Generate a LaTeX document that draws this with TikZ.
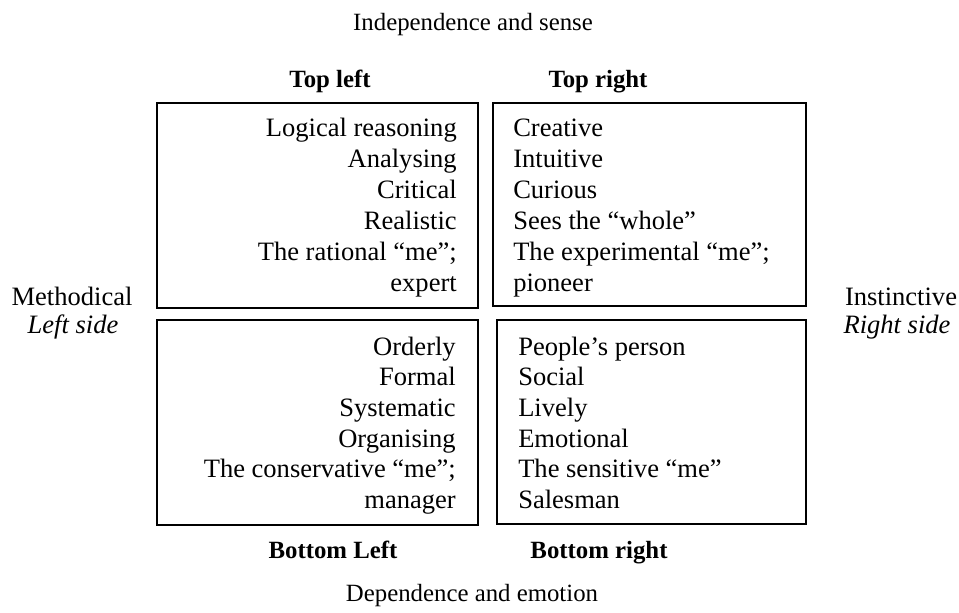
\documentclass[tikz,border=0pt]{standalone}
\usepackage{fontspec}
\setmainfont{Liberation Serif}
\begin{document}
\begin{tikzpicture}[x=0.75pt,y=0.75pt,yscale=-1,xscale=1,
  lbl/.style={inner sep=0pt,font=\fontsize{19.9}{24}\selectfont},
  axis/.style={inner sep=0pt,font=\fontsize{18.6}{23}\selectfont},
  head/.style={inner sep=0pt,font=\fontsize{18.6}{23}\selectfont\bfseries},
  side/.style={inner sep=0pt,font=\fontsize{19.9}{24}\selectfont\itshape},
  quad/.style={line width=1.2pt}]
\useasboundingbox (0,0) rectangle (959,613);

%Shape: Rectangle [top left]
\draw [quad] (157,103) rectangle (478,308);
%Shape: Rectangle [top right]
\draw [quad] (493,103) rectangle (806,306);
%Shape: Rectangle [bottom left]
\draw [quad] (157,320) rectangle (478,525);
%Shape: Rectangle [bottom right]
\draw [quad] (497,320) rectangle (806,524);

% Text Node
\node [axis,anchor=base] (indep) at (473,31) {Independence and sense};
% Text Node
\node [axis,anchor=base] (dep) at (472,601) {Dependence and emotion};
% Text Node
\node [head,anchor=base] (tlHead) at (330,88) {Top left};
% Text Node
\node [head,anchor=base] (trHead) at (598,88) {Top right};
% Text Node
\node [head,anchor=base] (blHead) at (333,558) {Bottom Left};
% Text Node
\node [head,anchor=base] (brHead) at (599,558) {Bottom right};
% Text Node
\node [lbl,anchor=base] (method) at (72,305) {Methodical};
% Text Node
\node [side,anchor=base] (leftSide) at (73,333) {Left side};
% Text Node
\node [lbl,anchor=base] (instinct) at (901,305) {Instinctive};
% Text Node
\node [side,anchor=base] (rightSide) at (897,333) {Right side};

% quadrant lists
\foreach \t [count=\i] in {Logical reasoning,Analysing,Critical,Realistic,The rational ``me'';,expert}
  \node [lbl,anchor=base east] (tl\i) at (457,{137+30.9*(\i-1)}) {\t};
\foreach \t [count=\i] in {Creative,Intuitive,Curious,Sees the ``whole'',The experimental ``me'';,pioneer}
  \node [lbl,anchor=base west] (tr\i) at (513,{137+30.9*(\i-1)}) {\t};
\foreach \t [count=\i] in {Orderly,Formal,Systematic,Organising,The conservative ``me'';,manager}
  \node [lbl,anchor=base east] (bl\i) at (456,{355+30.7*(\i-1)}) {\t};
\foreach \t [count=\i] in {People's person,Social,Lively,Emotional,The sensitive ``me'',Salesman}
  \node [lbl,anchor=base west] (br\i) at (518,{355+30.7*(\i-1)}) {\t};

\end{tikzpicture}
\end{document}
